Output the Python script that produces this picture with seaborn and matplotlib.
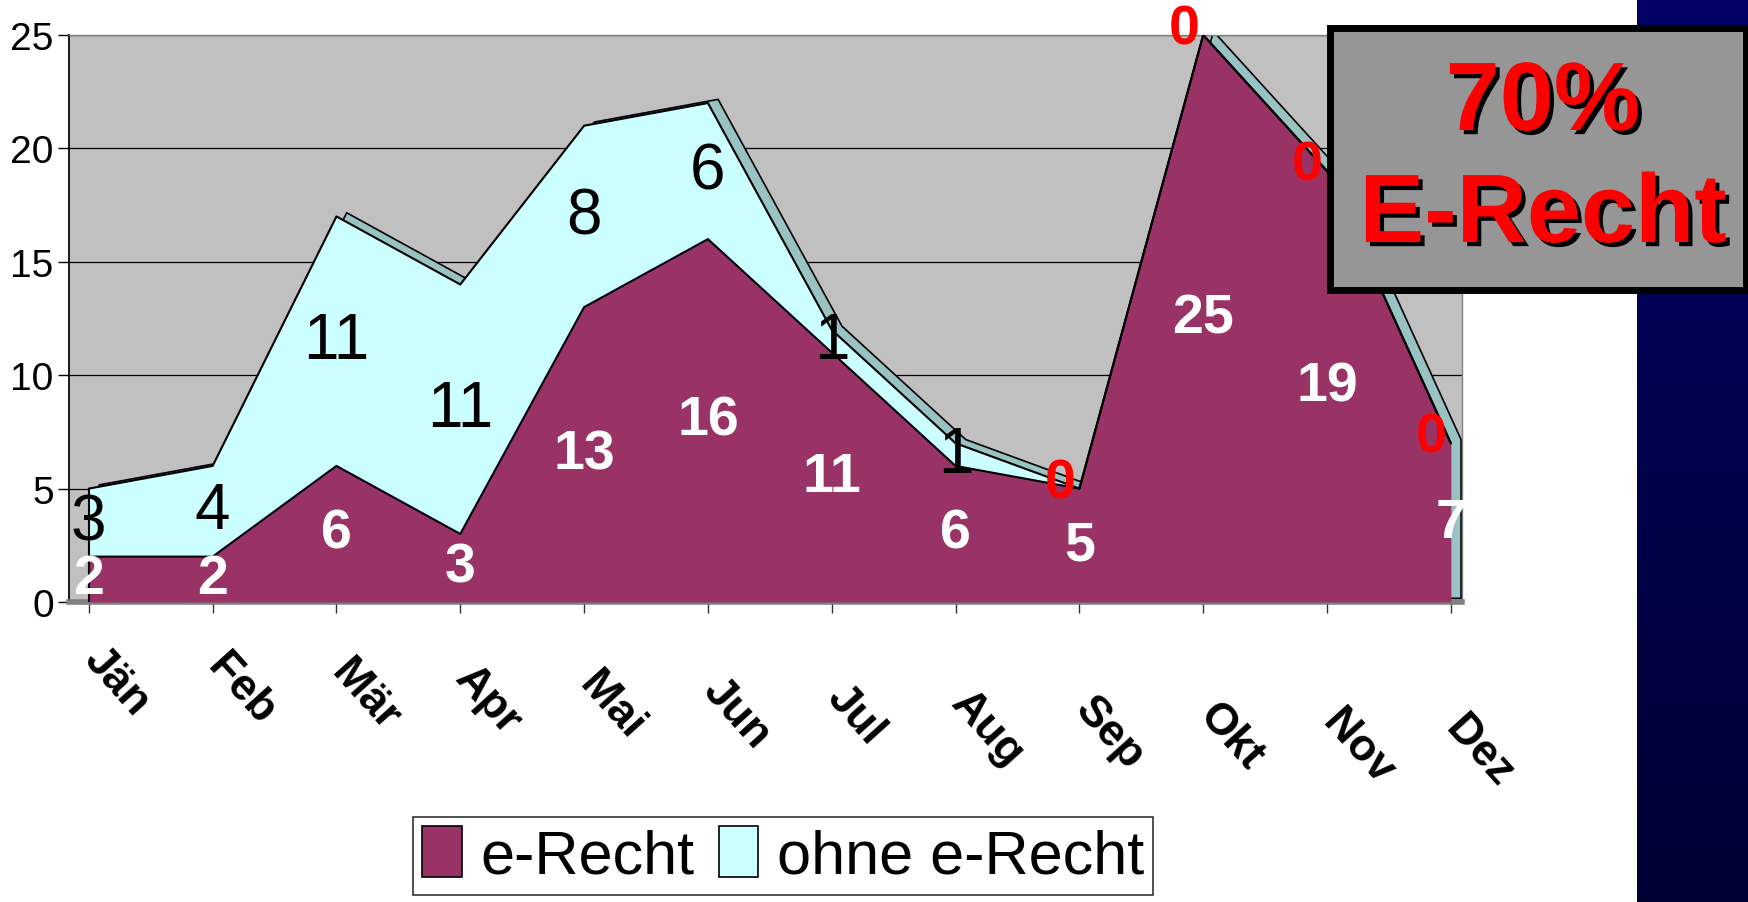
import numpy as np
import pandas as pd
import matplotlib
matplotlib.use("Agg")
import matplotlib.pyplot as plt
import matplotlib.patheffects as pe
from matplotlib.patches import Rectangle, Patch
from matplotlib.transforms import ScaledTranslation, blended_transform_factory
import seaborn as sns

# --- DONNEES ---
months = ["Jän", "Feb", "Mär", "Apr", "Mai", "Jun", "Jul", "Aug", "Sep", "Okt", "Nov", "Dez"]
e_recht = [2, 2, 6, 3, 13, 16, 11, 6, 5, 25, 19, 7]
ohne_e_recht = [3, 4, 11, 11, 8, 6, 1, 1, 0, 0, 0, 0]
yticks = [0, 5, 10, 15, 20, 25]
series_names = ["e-Recht", "ohne e-Recht"]
badge_lines = ["70%", "E-Recht"]

# --- COULEURS ---
COL_E = "#993366"
COL_OHNE = "#CCFFFF"
COL_SIDE = "#99C2C2"
COL_WALL = "#C0C0C0"
COL_BADGE = "#969696"

sns.set_theme(style="white")
plt.rcParams["font.family"] = ["Liberation Sans", "DejaVu Sans"]
plt.rcParams["text.color"] = "black"
plt.rcParams["ytick.color"] = "black"
plt.rcParams["xtick.color"] = "black"

df = pd.DataFrame({"Monat": months, "e-Recht": e_recht, "ohne e-Recht": ohne_e_recht})
df["x"] = np.arange(len(df))
df["gesamt"] = df["e-Recht"] + df["ohne e-Recht"]

W, H = 1749, 903
fig = plt.figure(figsize=(W / 100, H / 100), dpi=100)

# bande bleue a droite (degrade)
strip = fig.add_axes([1637 / W, 0, 1 - 1637 / W, 1])
grad = np.linspace(0, 1, 256).reshape(-1, 1)
strip.imshow(grad, aspect="auto", cmap=matplotlib.colors.LinearSegmentedColormap.from_list(
    "navy", ["#000066", "#000033"]), extent=[0, 1, 0, 1], origin="upper")
strip.axis("off")

ax = fig.add_axes([69 / W, 1 - 603 / H, (1462 - 69) / W, (603 - 36) / H])
ax.set_facecolor(COL_WALL)

# tranche "3D" legerement decalee derriere les surfaces
side = ax.transData + ScaledTranslation(7 / 72, 3 / 72, fig.dpi_scale_trans)
ax.fill_between(df["x"], 0, df["gesamt"], color=COL_SIDE, ec="black", lw=1.2,
                transform=side, zorder=2)
ax.fill_between(df["x"], df["e-Recht"], df["gesamt"], color=COL_OHNE, lw=0, zorder=3)
ax.fill_between(df["x"], 0, df["e-Recht"], color=COL_E, lw=0, zorder=4)
sns.lineplot(x="x", y="gesamt", data=df, color="black", lw=1.5, ax=ax, zorder=5)
sns.lineplot(x="x", y="e-Recht", data=df, color="black", lw=1.5, ax=ax, zorder=5)
ax.plot([df["x"].iloc[0]] * 2, [0, df["gesamt"].iloc[0]], color="black", lw=1.5, zorder=5)

ax.set_xlim(-0.16, 11.09)
ax.set_ylim(0, 25)
ax.set_yticks(yticks)
ax.set_yticklabels([str(t) for t in yticks], fontsize=28)
ax.set_xticks(df["x"])
ax.set_xticklabels([])
ax.set_xlabel("")
ax.set_ylabel("")
ax.grid(axis="y", color="black", lw=0.9)
ax.set_axisbelow(True)
ax.tick_params(axis="y", left=True, length=8, width=1, color="black", pad=3)
ax.tick_params(axis="x", bottom=True, length=8, width=1, color="#333333")
ax.spines["left"].set_color("black")
ax.spines["bottom"].set_color("#808080")
ax.spines["bottom"].set_linewidth(4)
for s in ["top", "right"]:
    ax.spines[s].set_color("#808080")
    ax.spines[s].set_linewidth(1)

# etiquettes des mois, inclinees
blend = blended_transform_factory(ax.transData, ax.transAxes)
for i, m in enumerate(months):
    ax.text(i + 0.14, -0.065 - 0.011 * i, m, transform=blend, rotation=-48,
            rotation_mode="anchor", ha="left", va="top", fontsize=32,
            fontweight="bold", color="black")

# etiquettes de valeurs
for i, row in df.iterrows():
    ax.text(row["x"], row["e-Recht"] / 2, str(row["e-Recht"]), ha="center", va="center",
            fontsize=40, fontweight="bold", color="white", zorder=7)
    if row["ohne e-Recht"] > 0:
        ax.text(row["x"], row["e-Recht"] + row["ohne e-Recht"] / 2, str(row["ohne e-Recht"]),
                ha="center", va="center", fontsize=46, color="black", zorder=7)
    else:
        ax.annotate("0", (row["x"], row["gesamt"]), xytext=(-14, 4), textcoords="offset points",
                    ha="center", va="center", fontsize=40, fontweight="bold",
                    color="red", zorder=7, annotation_clip=False)

# legende
handles = [Patch(facecolor=COL_E, edgecolor="black", lw=1.2),
           Patch(facecolor=COL_OHNE, edgecolor="black", lw=1.2)]
leg = fig.legend(handles, series_names, loc="center", bbox_to_anchor=(783 / W, 1 - 857 / H),
                 ncol=2, fontsize=44, frameon=True, fancybox=False, edgecolor="black",
                 handlelength=0.65, handleheight=0.9, handletextpad=0.3, columnspacing=0.4,
                 borderpad=0.15, borderaxespad=0)
leg.get_frame().set_linewidth(1.2)
for t in leg.get_texts():
    t.set_color("black")

# encadre "70% E-Recht"
fig.patches.append(Rectangle((1330 / W, 1 - 291 / H), (1746 - 1330) / W, (291 - 29) / H,
                             transform=fig.transFigure, facecolor=COL_BADGE,
                             edgecolor="black", lw=5, zorder=5))
shadow = [pe.withSimplePatchShadow(offset=(3, -3), shadow_rgbFace="black", alpha=1.0)]
fig.text(1543 / W, 1 - 106 / H, badge_lines[0], ha="center", va="center", fontsize=70,
         fontweight="bold", color="red", path_effects=shadow, zorder=6)
fig.text(1543 / W, 1 - 218 / H, badge_lines[1], ha="center", va="center", fontsize=70,
         fontweight="bold", color="red", path_effects=shadow, zorder=6)

plt.savefig("out.png", dpi=100)
